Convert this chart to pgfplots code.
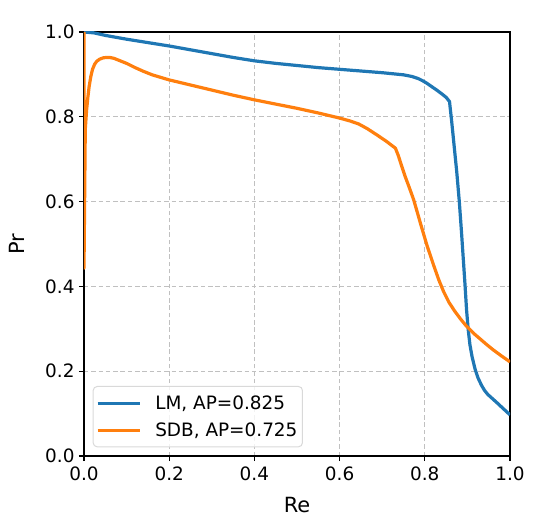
\documentclass[border=0pt]{standalone}
\usepackage{fontspec}
\setmainfont{DejaVu Sans}
\usepackage{pgfplots}
\pgfplotsset{compat=1.18}
\definecolor{tabblue}{HTML}{1F77B4}
\definecolor{taborange}{HTML}{FF7F0E}
\definecolor{gridgray}{HTML}{B0B0B0}
\begin{document}
\begin{tikzpicture}
\path[use as bounding box] (-84bp,-72bp) rectangle (466bp,456bp);
\begin{axis}[
  scale only axis, width=426bp, height=424bp,
  xmin=0, xmax=1, ymin=0, ymax=1,
  xtick={0,0.2,0.4,0.6,0.8,1.0},
  ytick={0,0.2,0.4,0.6,0.8,1.0},
  xtick pos=lower, ytick pos=left,
  tick align=outside, major tick length=5bp,
  tick style={black, line width=1.1bp},
  axis line style={line width=1.1bp},
  grid=major,
  grid style={gridgray!80, line width=0.9bp, dash pattern=on 4.5bp off 2.8bp},
  /pgf/number format/.cd, fixed, fixed zerofill, precision=1, assume math mode=true,
  /pgfplots/.cd,
  tick label style={font=\fontsize{18.5}{20}\selectfont},
  xticklabel style={yshift=-2bp},
  yticklabel style={xshift=-1bp},
  xlabel={Re}, ylabel={Pr},
  label style={font=\fontsize{21}{24}\selectfont},
  xlabel style={at={(axis description cs:0.5,-0.1344)}, anchor=base},
  ylabel style={at={(axis description cs:-0.1385,0.5)}, anchor=base},
  legend cell align=left,
  legend style={at={(rel axis cs:0.0204,0.0205)}, anchor=south west,
    font=\fontsize{18.5}{20}\selectfont,
    draw=gray!30, line width=1bp, rounded corners=4bp,
    fill=white, fill opacity=0.8, text opacity=1,
    inner xsep=3bp, inner ysep=7bp, row sep=8bp},
  legend image code/.code={\draw[#1, line width=3bp] (0bp,0bp) -- (42bp,0bp); \path (54bp,0bp);},
]
\addplot[tabblue, line width=3.2bp, line join=round] coordinates {
(0,1.0) (0.023,0.998) (0.05,0.992) (0.1,0.983) (0.15,0.975) (0.2,0.967)
(0.25,0.958) (0.3,0.949) (0.35,0.940) (0.4,0.932) (0.45,0.926) (0.5,0.921)
(0.55,0.916) (0.6,0.912) (0.65,0.908) (0.7,0.904) (0.73,0.901) (0.75,0.899)
(0.77,0.895) (0.785,0.890) (0.795,0.885) (0.805,0.879) (0.815,0.872)
(0.828,0.863) (0.84,0.854) (0.85,0.846) (0.858,0.836) (0.863,0.79) (0.869,0.73)
(0.875,0.67) (0.881,0.60) (0.886,0.53) (0.890,0.47) (0.894,0.41) (0.898,0.345)
(0.902,0.297) (0.906,0.262) (0.911,0.234)
(0.918,0.205) (0.925,0.184) (0.933,0.167) (0.94,0.155) (0.948,0.145)
(0.958,0.136) (0.969,0.126) (0.985,0.111) (1.0,0.097)
};
\addlegendentry{LM, AP=0.825}
\addplot[taborange, line width=3.2bp, line join=round] coordinates {
(0,1.0) (0,0.443) (0.003,0.77) (0.006,0.815) (0.009,0.845) (0.012,0.871) (0.016,0.895)
(0.02,0.912) (0.025,0.924) (0.03,0.931) (0.037,0.936) (0.045,0.939) (0.053,0.940)
(0.06,0.940) (0.07,0.938) (0.08,0.934) (0.09,0.930) (0.1,0.926)
(0.12,0.916) (0.14,0.907) (0.16,0.899) (0.18,0.893) (0.2,0.887) (0.25,0.875)
(0.3,0.863) (0.35,0.851) (0.4,0.840) (0.45,0.830) (0.5,0.820) (0.55,0.809)
(0.6,0.797) (0.625,0.790) (0.645,0.783) (0.665,0.772) (0.688,0.757) (0.71,0.742)
(0.731,0.726) (0.738,0.708) (0.745,0.686) (0.754,0.659) (0.764,0.632) (0.774,0.604)
(0.79,0.548) (0.805,0.497) (0.82,0.452) (0.833,0.415) (0.844,0.388) (0.857,0.362)
(0.87,0.342) (0.884,0.323) (0.898,0.306) (0.915,0.289) (0.93,0.276) (0.945,0.263)
(0.961,0.250) (0.98,0.236) (1.0,0.222)
};
\addlegendentry{SDB, AP=0.725}
\end{axis}
\end{tikzpicture}
\end{document}
